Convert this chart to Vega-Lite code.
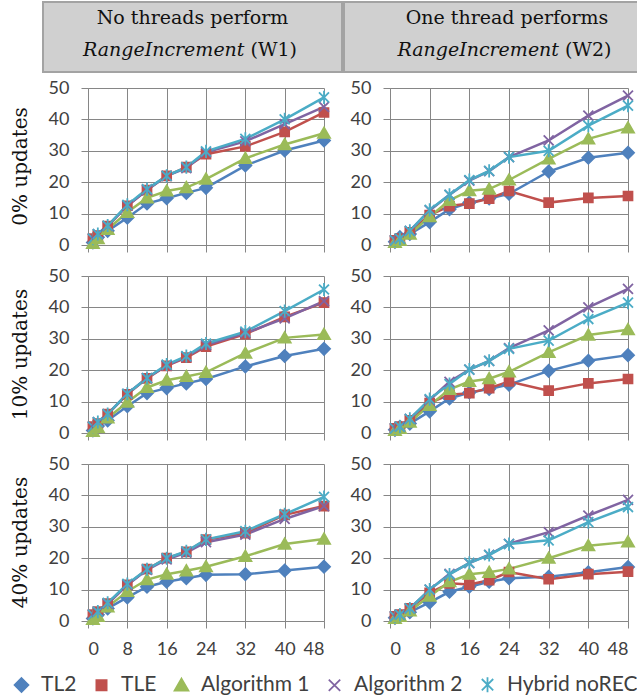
{
  "$schema": "https://vega.github.io/schema/vega-lite/v6.json",
  "padding": {"left": 10, "top": 1, "right": 0, "bottom": 0},
  "background": "white",
  "datasets": {
    "d": [
      {"u":0,"w":1,"t":1,"TL2":0.8,"TLE":2,"Algorithm 1":0.5,"Algorithm 2":2,"Hybrid noREC":2},
      {"u":0,"w":1,"t":2,"TL2":2.5,"TLE":3,"Algorithm 1":2,"Algorithm 2":3.5,"Hybrid noREC":3.5},
      {"u":0,"w":1,"t":4,"TL2":4.5,"TLE":6,"Algorithm 1":5,"Algorithm 2":6,"Hybrid noREC":6.2},
      {"u":0,"w":1,"t":8,"TL2":8.7,"TLE":12.5,"Algorithm 1":10.4,"Algorithm 2":12.5,"Hybrid noREC":12.8},
      {"u":0,"w":1,"t":12,"TL2":13.2,"TLE":17.5,"Algorithm 1":15,"Algorithm 2":17.5,"Hybrid noREC":17.8},
      {"u":0,"w":1,"t":16,"TL2":14.9,"TLE":22,"Algorithm 1":17.2,"Algorithm 2":22,"Hybrid noREC":22},
      {"u":0,"w":1,"t":20,"TL2":16.6,"TLE":24.8,"Algorithm 1":18.3,"Algorithm 2":24.5,"Hybrid noREC":24.8},
      {"u":0,"w":1,"t":24,"TL2":18.2,"TLE":28.9,"Algorithm 1":21,"Algorithm 2":29.5,"Hybrid noREC":29.8},
      {"u":0,"w":1,"t":32,"TL2":25.3,"TLE":31.4,"Algorithm 1":27.6,"Algorithm 2":33,"Hybrid noREC":33.8},
      {"u":0,"w":1,"t":40,"TL2":30.1,"TLE":36,"Algorithm 1":32,"Algorithm 2":38.5,"Hybrid noREC":40},
      {"u":0,"w":1,"t":48,"TL2":33.3,"TLE":42.2,"Algorithm 1":35.6,"Algorithm 2":44,"Hybrid noREC":47},
      {"u":0,"w":2,"t":1,"TL2":1,"TLE":1.5,"Algorithm 1":0.8,"Algorithm 2":1.5,"Hybrid noREC":1.5},
      {"u":0,"w":2,"t":2,"TL2":2.5,"TLE":2,"Algorithm 1":1.5,"Algorithm 2":2,"Hybrid noREC":2},
      {"u":0,"w":2,"t":4,"TL2":3.5,"TLE":4,"Algorithm 1":3.5,"Algorithm 2":4.5,"Hybrid noREC":4.5},
      {"u":0,"w":2,"t":8,"TL2":7.3,"TLE":9.5,"Algorithm 1":9,"Algorithm 2":11,"Hybrid noREC":11.2},
      {"u":0,"w":2,"t":12,"TL2":11.4,"TLE":12.4,"Algorithm 1":14.2,"Algorithm 2":16,"Hybrid noREC":16},
      {"u":0,"w":2,"t":16,"TL2":13.5,"TLE":13.2,"Algorithm 1":17.3,"Algorithm 2":20.5,"Hybrid noREC":20.7},
      {"u":0,"w":2,"t":20,"TL2":14.8,"TLE":14.8,"Algorithm 1":17.8,"Algorithm 2":23.5,"Hybrid noREC":23.6},
      {"u":0,"w":2,"t":24,"TL2":16.3,"TLE":17.2,"Algorithm 1":20.7,"Algorithm 2":28,"Hybrid noREC":28},
      {"u":0,"w":2,"t":32,"TL2":23.4,"TLE":13.5,"Algorithm 1":27.4,"Algorithm 2":33.3,"Hybrid noREC":30},
      {"u":0,"w":2,"t":40,"TL2":27.8,"TLE":15,"Algorithm 1":33.8,"Algorithm 2":41.2,"Hybrid noREC":38},
      {"u":0,"w":2,"t":48,"TL2":29.4,"TLE":15.6,"Algorithm 1":37.3,"Algorithm 2":47.6,"Hybrid noREC":44.4},
      {"u":10,"w":1,"t":1,"TL2":0.8,"TLE":2,"Algorithm 1":0.5,"Algorithm 2":2,"Hybrid noREC":2},
      {"u":10,"w":1,"t":2,"TL2":2.2,"TLE":3,"Algorithm 1":1.8,"Algorithm 2":3.5,"Hybrid noREC":3.5},
      {"u":10,"w":1,"t":4,"TL2":4,"TLE":6,"Algorithm 1":4.8,"Algorithm 2":6,"Hybrid noREC":6},
      {"u":10,"w":1,"t":8,"TL2":8.5,"TLE":12.3,"Algorithm 1":9.8,"Algorithm 2":12.5,"Hybrid noREC":12.5},
      {"u":10,"w":1,"t":12,"TL2":12.7,"TLE":17.4,"Algorithm 1":14.5,"Algorithm 2":17.5,"Hybrid noREC":17.5},
      {"u":10,"w":1,"t":16,"TL2":14.3,"TLE":21.4,"Algorithm 1":16.8,"Algorithm 2":21.5,"Hybrid noREC":21.8},
      {"u":10,"w":1,"t":20,"TL2":15.8,"TLE":24,"Algorithm 1":18,"Algorithm 2":24.3,"Hybrid noREC":24.5},
      {"u":10,"w":1,"t":24,"TL2":17.2,"TLE":27.5,"Algorithm 1":19.3,"Algorithm 2":28,"Hybrid noREC":28.5},
      {"u":10,"w":1,"t":32,"TL2":21.2,"TLE":31.5,"Algorithm 1":25.4,"Algorithm 2":31.8,"Hybrid noREC":32.3},
      {"u":10,"w":1,"t":40,"TL2":24.5,"TLE":37,"Algorithm 1":30.3,"Algorithm 2":36.5,"Hybrid noREC":38.8},
      {"u":10,"w":1,"t":48,"TL2":26.8,"TLE":41.5,"Algorithm 1":31.4,"Algorithm 2":42,"Hybrid noREC":45.7},
      {"u":10,"w":2,"t":1,"TL2":1,"TLE":1.5,"Algorithm 1":0.8,"Algorithm 2":1.5,"Hybrid noREC":1.5},
      {"u":10,"w":2,"t":2,"TL2":2,"TLE":2,"Algorithm 1":1.5,"Algorithm 2":2,"Hybrid noREC":2},
      {"u":10,"w":2,"t":4,"TL2":3,"TLE":4,"Algorithm 1":3.5,"Algorithm 2":4.5,"Hybrid noREC":4.5},
      {"u":10,"w":2,"t":8,"TL2":6.9,"TLE":9.5,"Algorithm 1":8.8,"Algorithm 2":10.5,"Hybrid noREC":10.8},
      {"u":10,"w":2,"t":12,"TL2":11,"TLE":12.2,"Algorithm 1":13.9,"Algorithm 2":16.3,"Hybrid noREC":15.6},
      {"u":10,"w":2,"t":16,"TL2":12.9,"TLE":12.7,"Algorithm 1":16.4,"Algorithm 2":20.2,"Hybrid noREC":20.2},
      {"u":10,"w":2,"t":20,"TL2":14,"TLE":14.3,"Algorithm 1":17.3,"Algorithm 2":23,"Hybrid noREC":23},
      {"u":10,"w":2,"t":24,"TL2":15.4,"TLE":16.4,"Algorithm 1":19.5,"Algorithm 2":27,"Hybrid noREC":26.8},
      {"u":10,"w":2,"t":32,"TL2":19.8,"TLE":13.5,"Algorithm 1":25.7,"Algorithm 2":32.7,"Hybrid noREC":29.4},
      {"u":10,"w":2,"t":40,"TL2":23,"TLE":15.8,"Algorithm 1":31.2,"Algorithm 2":40,"Hybrid noREC":36.3},
      {"u":10,"w":2,"t":48,"TL2":24.8,"TLE":17.2,"Algorithm 1":32.9,"Algorithm 2":45.9,"Hybrid noREC":41.5},
      {"u":40,"w":1,"t":1,"TL2":0.8,"TLE":2,"Algorithm 1":0.5,"Algorithm 2":2,"Hybrid noREC":2},
      {"u":40,"w":1,"t":2,"TL2":2,"TLE":3,"Algorithm 1":1.5,"Algorithm 2":3,"Hybrid noREC":3},
      {"u":40,"w":1,"t":4,"TL2":4,"TLE":5.5,"Algorithm 1":4.5,"Algorithm 2":5.5,"Hybrid noREC":5.8},
      {"u":40,"w":1,"t":8,"TL2":7.5,"TLE":11.5,"Algorithm 1":9.4,"Algorithm 2":11.5,"Hybrid noREC":11.8},
      {"u":40,"w":1,"t":12,"TL2":10.9,"TLE":16.5,"Algorithm 1":13.2,"Algorithm 2":16.3,"Hybrid noREC":16.5},
      {"u":40,"w":1,"t":16,"TL2":12.5,"TLE":20,"Algorithm 1":14.9,"Algorithm 2":19.6,"Hybrid noREC":20},
      {"u":40,"w":1,"t":20,"TL2":13.6,"TLE":22,"Algorithm 1":16,"Algorithm 2":21.8,"Hybrid noREC":22.2},
      {"u":40,"w":1,"t":24,"TL2":14.7,"TLE":25.9,"Algorithm 1":17.3,"Algorithm 2":25.1,"Hybrid noREC":26},
      {"u":40,"w":1,"t":32,"TL2":14.9,"TLE":28,"Algorithm 1":20.6,"Algorithm 2":27.5,"Hybrid noREC":28.6},
      {"u":40,"w":1,"t":40,"TL2":16.1,"TLE":33.8,"Algorithm 1":24.5,"Algorithm 2":32.5,"Hybrid noREC":34},
      {"u":40,"w":1,"t":48,"TL2":17.3,"TLE":36.6,"Algorithm 1":26.1,"Algorithm 2":36.6,"Hybrid noREC":39.5},
      {"u":40,"w":2,"t":1,"TL2":1,"TLE":1.5,"Algorithm 1":0.8,"Algorithm 2":1.5,"Hybrid noREC":1.5},
      {"u":40,"w":2,"t":2,"TL2":1.8,"TLE":2,"Algorithm 1":1.5,"Algorithm 2":2,"Hybrid noREC":2},
      {"u":40,"w":2,"t":4,"TL2":2.8,"TLE":4,"Algorithm 1":3.2,"Algorithm 2":4,"Hybrid noREC":4},
      {"u":40,"w":2,"t":8,"TL2":5.9,"TLE":9,"Algorithm 1":7.9,"Algorithm 2":10,"Hybrid noREC":10},
      {"u":40,"w":2,"t":12,"TL2":9.3,"TLE":12,"Algorithm 1":12.5,"Algorithm 2":15,"Hybrid noREC":14.8},
      {"u":40,"w":2,"t":16,"TL2":10.9,"TLE":11.6,"Algorithm 1":14.9,"Algorithm 2":18.4,"Hybrid noREC":18.5},
      {"u":40,"w":2,"t":20,"TL2":12.5,"TLE":13,"Algorithm 1":15.5,"Algorithm 2":21.1,"Hybrid noREC":21},
      {"u":40,"w":2,"t":24,"TL2":13.6,"TLE":15.6,"Algorithm 1":16.6,"Algorithm 2":24.6,"Hybrid noREC":24.5},
      {"u":40,"w":2,"t":32,"TL2":14.1,"TLE":13.3,"Algorithm 1":20,"Algorithm 2":28.3,"Hybrid noREC":25.7},
      {"u":40,"w":2,"t":40,"TL2":15.5,"TLE":14.9,"Algorithm 1":24,"Algorithm 2":33.6,"Hybrid noREC":31.5},
      {"u":40,"w":2,"t":48,"TL2":17.2,"TLE":15.7,"Algorithm 1":25.2,"Algorithm 2":38.6,"Hybrid noREC":36.3}
    ]
  },
  "config": {
    "view": {"stroke": null},
    "axis": {
      "grid": true, "gridColor": "#868686", "gridOpacity": 1, "gridWidth": 1,
      "domainColor": "#868686", "domainWidth": 1,
      "tickColor": "#868686", "tickSize": 7, "tickWidth": 1,
      "labelFont": "Lato", "labelFontSize": 18, "labelColor": "#404040", "labelPadding": 12
    },
    "legend": {
      "orient": "bottom", "direction": "horizontal", "labelFont": "Lato", "labelFontSize": 21,
      "labelColor": "#404040", "symbolSize": 144, "symbolStrokeWidth": 1.8, "labelOffset": 9,
      "columnPadding": 14, "offset": 16, "labelLimit": 300
    }
  },
  "spacing": 6,
  "vconcat": [
    {
      "spacing": 0,
      "hconcat": [
        {"width": 31, "height": 70, "view": {"stroke": null}, "data": {"values": [{"k": ""}]}, "mark": {"type": "text", "text": ""}},
        {
          "width": 299, "height": 70,
          "view": {"fill": "#d0d0d0", "stroke": "#a3a3a3", "strokeWidth": 2},
          "data": {"values": [
            {"ln": "1", "k": "c", "txt": "No threads perform"},
            {"ln": "2", "k": "i", "txt": "RangeIncrement"},
            {"ln": "2", "k": "r", "txt": "(W1)"}
          ]},
          "encoding": {
            "y": {"field": "ln", "type": "ordinal", "scale": {"type": "point", "padding": 0.594, "align": 0.42, "domain": ["1", "2"]}, "axis": null},
            "text": {"field": "txt"}
          },
          "layer": [
            {"transform": [{"filter": "datum.k == 'c'"}], "mark": {"type": "text", "font": "DejaVu Serif", "fontSize": 19, "color": "#111111", "align": "center", "baseline": "middle"}},
            {"transform": [{"filter": "datum.k == 'i'"}], "mark": {"type": "text", "font": "DejaVu Serif", "fontSize": 19, "fontStyle": "italic", "color": "#111111", "align": "right", "baseline": "middle", "dx": 52}},
            {"transform": [{"filter": "datum.k == 'r'"}], "mark": {"type": "text", "font": "DejaVu Serif", "fontSize": 19, "color": "#111111", "align": "left", "baseline": "middle", "dx": 58}}
          ]
        },
        {
          "width": 326, "height": 70,
          "view": {"fill": "#d0d0d0", "stroke": "#a3a3a3", "strokeWidth": 2},
          "data": {"values": [
            {"ln": "1", "k": "c", "txt": "One thread performs"},
            {"ln": "2", "k": "i", "txt": "RangeIncrement"},
            {"ln": "2", "k": "r", "txt": "(W2)"}
          ]},
          "encoding": {
            "y": {"field": "ln", "type": "ordinal", "scale": {"type": "point", "padding": 0.594, "align": 0.42, "domain": ["1", "2"]}, "axis": null},
            "text": {"field": "txt"}
          },
          "layer": [
            {"transform": [{"filter": "datum.k == 'c'"}], "mark": {"type": "text", "font": "DejaVu Serif", "fontSize": 19, "color": "#111111", "align": "center", "baseline": "middle"}},
            {"transform": [{"filter": "datum.k == 'i'"}], "mark": {"type": "text", "font": "DejaVu Serif", "fontSize": 19, "fontStyle": "italic", "color": "#111111", "align": "right", "baseline": "middle", "dx": 52}},
            {"transform": [{"filter": "datum.k == 'r'"}], "mark": {"type": "text", "font": "DejaVu Serif", "fontSize": 19, "color": "#111111", "align": "left", "baseline": "middle", "dx": 58}}
          ]
        }
      ]
    },
    {
      "spacing": 13,
      "vconcat": [
        {
          "spacing": 16,
          "hconcat": [
            {"width": 20, "height": 157, "view": {"stroke": null}, "data": {"values": [{"lab": "0% updates"}]}, "mark": {"type": "text", "angle": 270, "font": "DejaVu Serif", "fontSize": 20, "color": "#111111", "align": "center", "baseline": "middle"}, "encoding": {"text": {"field": "lab"}}},
            {
              "width": 236, "height": 157, "data": {"name": "d"},
              "transform": [{"filter": "datum.u == 0 && datum.w == 1"}, {"fold": ["TL2", "TLE", "Algorithm 1", "Algorithm 2", "Hybrid noREC"], "as": ["alg", "v"]}],
              "encoding": {
                "x": {"field": "t", "type": "quantitative", "scale": {"domain": [0, 48], "nice": false}, "axis": {"values": [0, 8, 16, 24, 32, 40, 48], "labels": false, "title": null}},
                "y": {"field": "v", "type": "quantitative", "scale": {"domain": [0, 50], "nice": false}, "axis": {"values": [0, 10, 20, 30, 40, 50], "title": null}},
                "color": {"field": "alg", "type": "nominal", "title": null, "legend": {"orient": "bottom", "direction": "horizontal"}, "scale": {"domain": ["TL2", "TLE", "Algorithm 1", "Algorithm 2", "Hybrid noREC"], "range": ["#4F81BD", "#C0504D", "#9BBB59", "#8064A2", "#4BACC6"]}}
              },
              "layer": [
                {"mark": {"type": "line", "strokeWidth": 2.5}},
                {"mark": {"type": "point", "filled": true, "size": 110, "strokeWidth": 1.8, "opacity": 1},
                  "encoding": {
                    "shape": {"field": "alg", "type": "nominal", "legend": null, "scale": {"domain": ["TL2", "TLE", "Algorithm 1", "Algorithm 2", "Hybrid noREC"], "range": ["M0,-1.15L1.15,0L0,1.15L-1.15,0Z", "M-0.85,-0.85H0.85V0.85H-0.85Z", "M0,-1.1L1.15,0.9L-1.15,0.9Z", "M-0.95,-0.95L0.95,0.95M-0.95,0.95L0.95,-0.95", "M-0.95,-0.95L0.95,0.95M-0.95,0.95L0.95,-0.95M0,-1.25L0,1.25"]}},
                    "stroke": {"field": "alg", "type": "nominal", "legend": null, "scale": {"domain": ["TL2", "TLE", "Algorithm 1", "Algorithm 2", "Hybrid noREC"], "range": ["#4F81BD", "#C0504D", "#9BBB59", "#8064A2", "#4BACC6"]}}
                  }}
              ]
            },
            {
              "width": 238, "height": 157, "data": {"name": "d"},
              "transform": [{"filter": "datum.u == 0 && datum.w == 2"}, {"fold": ["TL2", "TLE", "Algorithm 1", "Algorithm 2", "Hybrid noREC"], "as": ["alg", "v"]}],
              "encoding": {
                "x": {"field": "t", "type": "quantitative", "scale": {"domain": [0, 48], "nice": false}, "axis": {"values": [0, 8, 16, 24, 32, 40, 48], "labels": false, "title": null}},
                "y": {"field": "v", "type": "quantitative", "scale": {"domain": [0, 50], "nice": false}, "axis": {"values": [0, 10, 20, 30, 40, 50], "title": null}},
                "color": {"field": "alg", "type": "nominal", "title": null, "legend": {"orient": "bottom", "direction": "horizontal"}, "scale": {"domain": ["TL2", "TLE", "Algorithm 1", "Algorithm 2", "Hybrid noREC"], "range": ["#4F81BD", "#C0504D", "#9BBB59", "#8064A2", "#4BACC6"]}}
              },
              "layer": [
                {"mark": {"type": "line", "strokeWidth": 2.5}},
                {"mark": {"type": "point", "filled": true, "size": 110, "strokeWidth": 1.8, "opacity": 1},
                  "encoding": {
                    "shape": {"field": "alg", "type": "nominal", "legend": null, "scale": {"domain": ["TL2", "TLE", "Algorithm 1", "Algorithm 2", "Hybrid noREC"], "range": ["M0,-1.15L1.15,0L0,1.15L-1.15,0Z", "M-0.85,-0.85H0.85V0.85H-0.85Z", "M0,-1.1L1.15,0.9L-1.15,0.9Z", "M-0.95,-0.95L0.95,0.95M-0.95,0.95L0.95,-0.95", "M-0.95,-0.95L0.95,0.95M-0.95,0.95L0.95,-0.95M0,-1.25L0,1.25"]}},
                    "stroke": {"field": "alg", "type": "nominal", "legend": null, "scale": {"domain": ["TL2", "TLE", "Algorithm 1", "Algorithm 2", "Hybrid noREC"], "range": ["#4F81BD", "#C0504D", "#9BBB59", "#8064A2", "#4BACC6"]}}
                  }}
              ]
            }
          ]
        },
        {
          "spacing": 16,
          "hconcat": [
            {"width": 20, "height": 157, "view": {"stroke": null}, "data": {"values": [{"lab": "10% updates"}]}, "mark": {"type": "text", "angle": 270, "font": "DejaVu Serif", "fontSize": 20, "color": "#111111", "align": "center", "baseline": "middle"}, "encoding": {"text": {"field": "lab"}}},
            {
              "width": 236, "height": 157, "data": {"name": "d"},
              "transform": [{"filter": "datum.u == 10 && datum.w == 1"}, {"fold": ["TL2", "TLE", "Algorithm 1", "Algorithm 2", "Hybrid noREC"], "as": ["alg", "v"]}],
              "encoding": {
                "x": {"field": "t", "type": "quantitative", "scale": {"domain": [0, 48], "nice": false}, "axis": {"values": [0, 8, 16, 24, 32, 40, 48], "labels": false, "title": null}},
                "y": {"field": "v", "type": "quantitative", "scale": {"domain": [0, 50], "nice": false}, "axis": {"values": [0, 10, 20, 30, 40, 50], "title": null}},
                "color": {"field": "alg", "type": "nominal", "title": null, "legend": {"orient": "bottom", "direction": "horizontal"}, "scale": {"domain": ["TL2", "TLE", "Algorithm 1", "Algorithm 2", "Hybrid noREC"], "range": ["#4F81BD", "#C0504D", "#9BBB59", "#8064A2", "#4BACC6"]}}
              },
              "layer": [
                {"mark": {"type": "line", "strokeWidth": 2.5}},
                {"mark": {"type": "point", "filled": true, "size": 110, "strokeWidth": 1.8, "opacity": 1},
                  "encoding": {
                    "shape": {"field": "alg", "type": "nominal", "legend": null, "scale": {"domain": ["TL2", "TLE", "Algorithm 1", "Algorithm 2", "Hybrid noREC"], "range": ["M0,-1.15L1.15,0L0,1.15L-1.15,0Z", "M-0.85,-0.85H0.85V0.85H-0.85Z", "M0,-1.1L1.15,0.9L-1.15,0.9Z", "M-0.95,-0.95L0.95,0.95M-0.95,0.95L0.95,-0.95", "M-0.95,-0.95L0.95,0.95M-0.95,0.95L0.95,-0.95M0,-1.25L0,1.25"]}},
                    "stroke": {"field": "alg", "type": "nominal", "legend": null, "scale": {"domain": ["TL2", "TLE", "Algorithm 1", "Algorithm 2", "Hybrid noREC"], "range": ["#4F81BD", "#C0504D", "#9BBB59", "#8064A2", "#4BACC6"]}}
                  }}
              ]
            },
            {
              "width": 238, "height": 157, "data": {"name": "d"},
              "transform": [{"filter": "datum.u == 10 && datum.w == 2"}, {"fold": ["TL2", "TLE", "Algorithm 1", "Algorithm 2", "Hybrid noREC"], "as": ["alg", "v"]}],
              "encoding": {
                "x": {"field": "t", "type": "quantitative", "scale": {"domain": [0, 48], "nice": false}, "axis": {"values": [0, 8, 16, 24, 32, 40, 48], "labels": false, "title": null}},
                "y": {"field": "v", "type": "quantitative", "scale": {"domain": [0, 50], "nice": false}, "axis": {"values": [0, 10, 20, 30, 40, 50], "title": null}},
                "color": {"field": "alg", "type": "nominal", "title": null, "legend": {"orient": "bottom", "direction": "horizontal"}, "scale": {"domain": ["TL2", "TLE", "Algorithm 1", "Algorithm 2", "Hybrid noREC"], "range": ["#4F81BD", "#C0504D", "#9BBB59", "#8064A2", "#4BACC6"]}}
              },
              "layer": [
                {"mark": {"type": "line", "strokeWidth": 2.5}},
                {"mark": {"type": "point", "filled": true, "size": 110, "strokeWidth": 1.8, "opacity": 1},
                  "encoding": {
                    "shape": {"field": "alg", "type": "nominal", "legend": null, "scale": {"domain": ["TL2", "TLE", "Algorithm 1", "Algorithm 2", "Hybrid noREC"], "range": ["M0,-1.15L1.15,0L0,1.15L-1.15,0Z", "M-0.85,-0.85H0.85V0.85H-0.85Z", "M0,-1.1L1.15,0.9L-1.15,0.9Z", "M-0.95,-0.95L0.95,0.95M-0.95,0.95L0.95,-0.95", "M-0.95,-0.95L0.95,0.95M-0.95,0.95L0.95,-0.95M0,-1.25L0,1.25"]}},
                    "stroke": {"field": "alg", "type": "nominal", "legend": null, "scale": {"domain": ["TL2", "TLE", "Algorithm 1", "Algorithm 2", "Hybrid noREC"], "range": ["#4F81BD", "#C0504D", "#9BBB59", "#8064A2", "#4BACC6"]}}
                  }}
              ]
            }
          ]
        },
        {
          "spacing": 16,
          "hconcat": [
            {"width": 20, "height": 157, "view": {"stroke": null}, "data": {"values": [{"lab": "40% updates"}]}, "mark": {"type": "text", "angle": 270, "font": "DejaVu Serif", "fontSize": 20, "color": "#111111", "align": "center", "baseline": "middle"}, "encoding": {"text": {"field": "lab"}}},
            {
              "width": 236, "height": 157, "data": {"name": "d"},
              "transform": [{"filter": "datum.u == 40 && datum.w == 1"}, {"fold": ["TL2", "TLE", "Algorithm 1", "Algorithm 2", "Hybrid noREC"], "as": ["alg", "v"]}],
              "encoding": {
                "x": {"field": "t", "type": "quantitative", "scale": {"domain": [0, 48], "nice": false}, "axis": {"values": [0, 8, 16, 24, 32, 40, 48], "title": null}},
                "y": {"field": "v", "type": "quantitative", "scale": {"domain": [0, 50], "nice": false}, "axis": {"values": [0, 10, 20, 30, 40, 50], "title": null}},
                "color": {"field": "alg", "type": "nominal", "title": null, "legend": {"orient": "bottom", "direction": "horizontal"}, "scale": {"domain": ["TL2", "TLE", "Algorithm 1", "Algorithm 2", "Hybrid noREC"], "range": ["#4F81BD", "#C0504D", "#9BBB59", "#8064A2", "#4BACC6"]}}
              },
              "layer": [
                {"mark": {"type": "line", "strokeWidth": 2.5}},
                {"mark": {"type": "point", "filled": true, "size": 110, "strokeWidth": 1.8, "opacity": 1},
                  "encoding": {
                    "shape": {"field": "alg", "type": "nominal", "legend": null, "scale": {"domain": ["TL2", "TLE", "Algorithm 1", "Algorithm 2", "Hybrid noREC"], "range": ["M0,-1.15L1.15,0L0,1.15L-1.15,0Z", "M-0.85,-0.85H0.85V0.85H-0.85Z", "M0,-1.1L1.15,0.9L-1.15,0.9Z", "M-0.95,-0.95L0.95,0.95M-0.95,0.95L0.95,-0.95", "M-0.95,-0.95L0.95,0.95M-0.95,0.95L0.95,-0.95M0,-1.25L0,1.25"]}},
                    "stroke": {"field": "alg", "type": "nominal", "legend": null, "scale": {"domain": ["TL2", "TLE", "Algorithm 1", "Algorithm 2", "Hybrid noREC"], "range": ["#4F81BD", "#C0504D", "#9BBB59", "#8064A2", "#4BACC6"]}}
                  }}
              ]
            },
            {
              "width": 238, "height": 157, "data": {"name": "d"},
              "transform": [{"filter": "datum.u == 40 && datum.w == 2"}, {"fold": ["TL2", "TLE", "Algorithm 1", "Algorithm 2", "Hybrid noREC"], "as": ["alg", "v"]}],
              "encoding": {
                "x": {"field": "t", "type": "quantitative", "scale": {"domain": [0, 48], "nice": false}, "axis": {"values": [0, 8, 16, 24, 32, 40, 48], "title": null}},
                "y": {"field": "v", "type": "quantitative", "scale": {"domain": [0, 50], "nice": false}, "axis": {"values": [0, 10, 20, 30, 40, 50], "title": null}},
                "color": {"field": "alg", "type": "nominal", "title": null, "legend": {"orient": "bottom", "direction": "horizontal"}, "scale": {"domain": ["TL2", "TLE", "Algorithm 1", "Algorithm 2", "Hybrid noREC"], "range": ["#4F81BD", "#C0504D", "#9BBB59", "#8064A2", "#4BACC6"]}}
              },
              "layer": [
                {"mark": {"type": "line", "strokeWidth": 2.5}},
                {"mark": {"type": "point", "filled": true, "size": 110, "strokeWidth": 1.8, "opacity": 1},
                  "encoding": {
                    "shape": {"field": "alg", "type": "nominal", "legend": null, "scale": {"domain": ["TL2", "TLE", "Algorithm 1", "Algorithm 2", "Hybrid noREC"], "range": ["M0,-1.15L1.15,0L0,1.15L-1.15,0Z", "M-0.85,-0.85H0.85V0.85H-0.85Z", "M0,-1.1L1.15,0.9L-1.15,0.9Z", "M-0.95,-0.95L0.95,0.95M-0.95,0.95L0.95,-0.95", "M-0.95,-0.95L0.95,0.95M-0.95,0.95L0.95,-0.95M0,-1.25L0,1.25"]}},
                    "stroke": {"field": "alg", "type": "nominal", "legend": null, "scale": {"domain": ["TL2", "TLE", "Algorithm 1", "Algorithm 2", "Hybrid noREC"], "range": ["#4F81BD", "#C0504D", "#9BBB59", "#8064A2", "#4BACC6"]}}
                  }}
              ]
            }
          ]
        }
      ]
    }
  ]
}
